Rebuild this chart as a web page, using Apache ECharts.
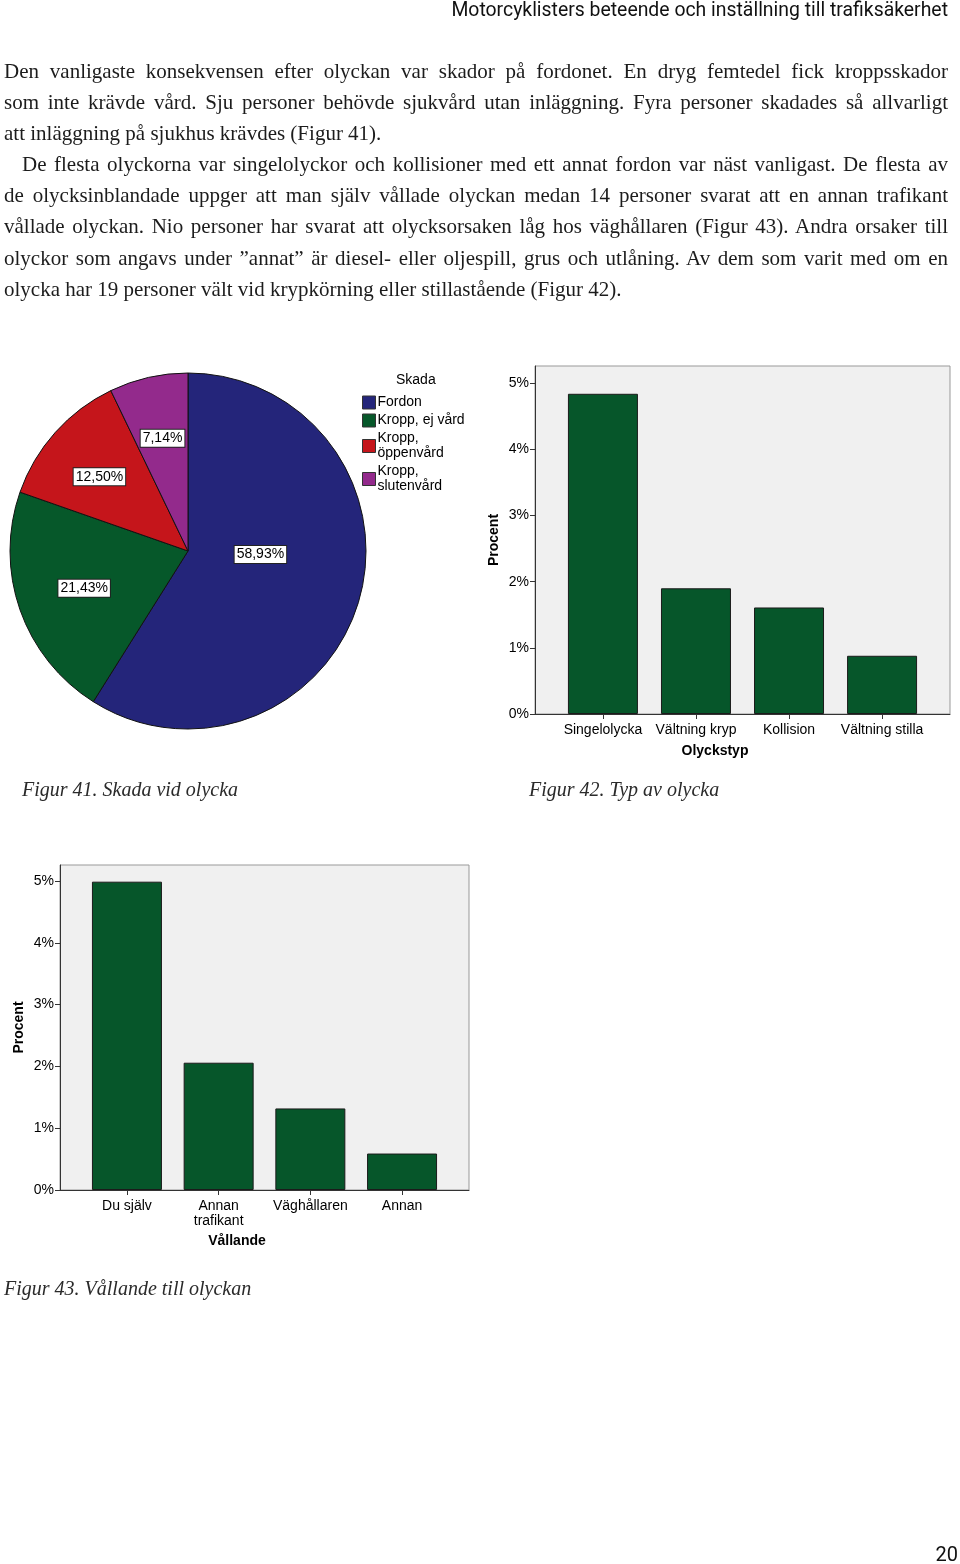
<!DOCTYPE html>
<html>
<head>
<meta charset="utf-8">
<script src="https://cdn.jsdelivr.net/npm/echarts@6/dist/echarts.min.js"></script>
<style>
  html, body { margin: 0; padding: 0; background: #fff; }
  #page { position: relative; width: 960px; height: 1564px; overflow: hidden; }
  #chart { position: absolute; left: 0; top: 0; width: 960px; height: 1564px; }
  .head { position: absolute; right: 12px; top: -1px; font: 19.4px/21px Roboto, sans-serif; color: #111; white-space: nowrap; }
  .text { position: absolute; left: 4px; top: 56px; width: 944px; font: 21px/31.1px "Liberation Serif", serif; color: #1c1c1c; }
  .text div { text-align: justify; text-align-last: justify; }
  .text div.last { text-align-last: left; }
  .text div.ind { padding-left: 18px; }
  .cap { position: absolute; font: italic 20px/24px "Liberation Serif", serif; color: #2a2a2a; white-space: nowrap; }
  .pnum { position: absolute; right: 2px; top: 1542px; font: 20px/24px Roboto, sans-serif; color: #111; }
</style>
</head>
<body>
<div id="page">
  <div id="chart"></div>
  <div class="head">Motorcyklisters beteende och inställning till trafiksäkerhet</div>
  <div class="text">
    <div>Den vanligaste konsekvensen efter olyckan var skador på fordonet. En dryg femtedel fick kroppsskador</div>
    <div>som inte krävde vård. Sju personer behövde sjukvård utan inläggning. Fyra personer skadades så allvarligt</div>
    <div class="last">att inläggning på sjukhus krävdes (Figur 41).</div>
    <div class="ind">De flesta olyckorna var singelolyckor och kollisioner med ett annat fordon var näst vanligast. De flesta av</div>
    <div>de olycksinblandade uppger att man själv vållade olyckan medan 14 personer svarat att en annan trafikant</div>
    <div>vållade olyckan. Nio personer har svarat att olycksorsaken låg hos väghållaren (Figur 43). Andra orsaker till</div>
    <div>olyckor som angavs under ”annat” är diesel- eller oljespill, grus och utlåning. Av dem som varit med om en</div>
    <div class="last">olycka har 19 personer vält vid krypkörning eller stillastående (Figur 42).</div>
  </div>
  <div class="cap" style="left:22px; top:777px">Figur 41. Skada vid olycka</div>
  <div class="cap" style="left:529px; top:777px">Figur 42. Typ av olycka</div>
  <div class="cap" style="left:4px; top:1276px">Figur 43. Vållande till olyckan</div>
  <div class="pnum">20</div>
</div>

<script>
// Figur 41 - Skada vid olycka
const skadaNamn = ['Fordon', 'Kropp, ej vård', 'Kropp, öppenvård', 'Kropp, slutenvård']
const skadaProcent = [58.93, 21.43, 12.50, 7.14]

// Figur 42 - Typ av olycka
const olyckstyp = ['Singelolycka', 'Vältning kryp', 'Kollision', 'Vältning stilla']
const olyckstypProcent = [4.84, 1.90, 1.61, 0.88]

// Figur 43 - Vållande till olyckan
const vallande = ['Du själv', 'Annan\ntrafikant', 'Väghållaren', 'Annan']
const vallandeProcent = [4.99, 2.06, 1.32, 0.59]

const procentTicks = [0, 1, 2, 3, 4, 5]
const kategoriTicks = [0, 1, 2, 3]

const font = '"Liberation Sans", Arial, sans-serif'
const barColor = '#06562a'

const chart = echarts.init(document.getElementById('chart'))

function xAxisFor(gridIndex, names, name, nameGap) {
  return {
    gridIndex,
    type: 'value',
    min: -0.73,
    max: 3.73,
    name,
    nameLocation: 'middle',
    nameGap,
    // SPSS centres the axis title a bit left of the plot centre
    nameTextStyle: { fontFamily: font, fontSize: 14, fontWeight: 'bold', color: '#000', padding: [0, 55, 0, 0] },
    splitLine: { show: false },
    axisLine: { onZero: false, lineStyle: { color: '#333' } },
    axisTick: { customValues: kategoriTicks, length: 5, lineStyle: { color: '#333' } },
    axisLabel: {
      customValues: kategoriTicks,
      formatter: v => names[v],
      margin: 9,
      fontFamily: font,
      fontSize: 14,
      lineHeight: 15,
      color: '#000'
    }
  }
}

function yAxisFor(gridIndex) {
  return {
    gridIndex,
    type: 'value',
    min: 0,
    max: 5.26,
    name: 'Procent',
    nameLocation: 'middle',
    nameGap: 34,
    nameTextStyle: { fontFamily: font, fontSize: 14, fontWeight: 'bold', color: '#000' },
    splitLine: { show: false },
    axisLine: { show: true, onZero: false, lineStyle: { color: '#333' } },
    axisTick: { show: true, customValues: procentTicks, length: 5, lineStyle: { color: '#333' } },
    axisLabel: {
      customValues: procentTicks,
      formatter: v => v + '%',
      margin: 6,
      padding: [4, 0, 0, 0],
      fontFamily: font,
      fontSize: 14,
      color: '#000'
    }
  }
}

function barSeries(index, values) {
  return {
    type: 'bar',
    xAxisIndex: index,
    yAxisIndex: index,
    barWidth: 70,
    itemStyle: { color: barColor, borderColor: '#1b1b1b', borderWidth: 1 },
    data: values.map((v, i) => [i, v]),
    animation: false
  }
}

// SPSS puts the pie labels a bit further out than the mid radius
const labelShift = [[-16, -22], [-17, 7], [-20, -13], [-5, -23]]

chart.setOption({
  animation: false,
  textStyle: { fontFamily: font },
  title: {
    text: 'Skada',
    left: 391,
    top: 368,
    textStyle: { fontFamily: font, fontSize: 14, fontWeight: 'normal', color: '#000' }
  },
  legend: {
    orient: 'vertical',
    left: 357,
    top: 390,
    itemWidth: 13,
    itemHeight: 13,
    itemGap: 3,
    icon: 'rect',
    data: skadaNamn,
    itemStyle: { borderColor: '#333', borderWidth: 1 },
    textStyle: {
      fontFamily: font, fontSize: 14, color: '#000',
      lineHeight: 15, width: 100, overflow: 'break', padding: [0, 0, 0, -3]
    }
  },
  grid: [
    { left: 535, top: 366, width: 415, height: 348, show: true, backgroundColor: '#f0f0f0', borderColor: '#999', borderWidth: 1 },
    { left: 60, top: 865, width: 409, height: 325, show: true, backgroundColor: '#f0f0f0', borderColor: '#999', borderWidth: 1 }
  ],
  xAxis: [
    xAxisFor(0, olyckstyp, 'Olyckstyp', 30),
    xAxisFor(1, vallande, 'Vållande', 44)
  ],
  yAxis: [yAxisFor(0), yAxisFor(1)],
  series: [
    {
      type: 'pie',
      center: [188, 551],
      radius: 178,
      startAngle: 90,
      clockwise: true,
      animation: false,
      silent: true,
      color: ['#24257a', '#06582a', '#c5151b', '#932a8c'],
      itemStyle: { borderColor: '#111', borderWidth: 1 },
      label: {
        position: 'inside',
        formatter: p => p.value.toFixed(2).replace('.', ',') + '%',
        fontFamily: font,
        fontSize: 14,
        color: '#000',
        backgroundColor: '#fff',
        borderColor: '#222',
        borderWidth: 1,
        padding: [2, 2, 1, 2]
      },
      labelLine: { show: false },
      labelLayout: p => ({ dx: labelShift[p.dataIndex][0], dy: labelShift[p.dataIndex][1] }),
      data: skadaNamn.map((n, i) => ({ name: n, value: skadaProcent[i] }))
    },
    barSeries(0, olyckstypProcent),
    barSeries(1, vallandeProcent)
  ]
})
</script>
</body>
</html>
